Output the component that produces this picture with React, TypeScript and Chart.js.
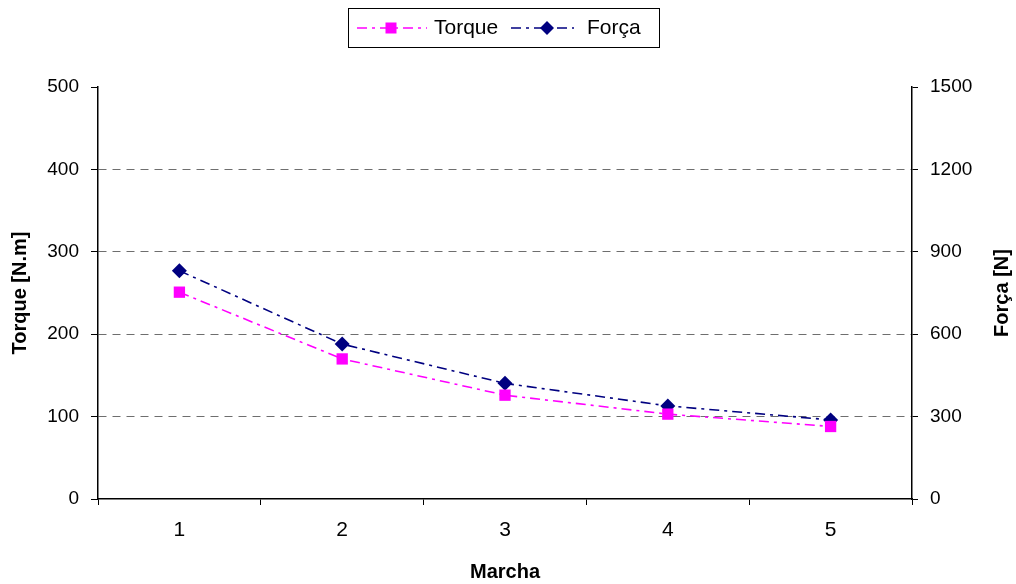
import { useEffect, useRef } from 'react';
import { Chart, registerables } from 'chart.js';

Chart.register(...registerables);

const gears = ['1', '2', '3', '4', '5'];
const torqueValues = [251, 170, 126, 103, 88];
const forceValues = [831, 564, 421, 339, 288];
const seriesNames = ['Torque', 'Força'];
const torqueAxis = { min: 0, max: 500, step: 100, title: 'Torque [N.m]' };
const forceAxis = { min: 0, max: 1500, step: 300, title: 'Força [N]' };
const xTitle = 'Marcha';

const FONT = '"Liberation Sans", Arial, sans-serif';
const PINK = '#FF00FF';
const NAVY = '#000080';
const DASH = [10, 5, 3, 5];

const legendPlugin = {
  id: 'customLegend',
  afterDraw(chart: any) {
    const ctx = chart.ctx as CanvasRenderingContext2D;
    ctx.save();
    ctx.strokeStyle = '#000';
    ctx.lineWidth = 1;
    ctx.setLineDash([]);
    ctx.strokeRect(348.5, 8.5, 311, 39);
    const y = 28;
    const items = [
      { name: seriesNames[0], color: PINK, x0: 357, x1: 427, mx: 391, tx: 434, shape: 'rect' },
      { name: seriesNames[1], color: NAVY, x0: 511, x1: 574, mx: 547, tx: 587, shape: 'diamond' },
    ];
    for (const it of items) {
      ctx.strokeStyle = it.color;
      ctx.lineWidth = 1.6;
      ctx.setLineDash(DASH);
      ctx.beginPath();
      ctx.moveTo(it.x0, y);
      ctx.lineTo(it.x1, y);
      ctx.stroke();
      ctx.setLineDash([]);
      ctx.fillStyle = it.color;
      if (it.shape === 'rect') {
        ctx.fillRect(it.mx - 5.5, y - 5.5, 11, 11);
      } else {
        ctx.beginPath();
        ctx.moveTo(it.mx, y - 7);
        ctx.lineTo(it.mx + 7, y);
        ctx.lineTo(it.mx, y + 7);
        ctx.lineTo(it.mx - 7, y);
        ctx.closePath();
        ctx.fill();
      }
      ctx.fillStyle = '#000';
      ctx.font = `21px ${FONT}`;
      ctx.textBaseline = 'middle';
      ctx.textAlign = 'left';
      ctx.fillText(it.name, it.tx, y);
    }
    ctx.restore();
  },
};

const rightTitlePlugin = {
  id: 'rightTitle',
  afterDraw(chart: any) {
    const ctx = chart.ctx as CanvasRenderingContext2D;
    const area = chart.chartArea;
    ctx.save();
    ctx.translate(1002, (area.top + area.bottom) / 2);
    ctx.rotate(-Math.PI / 2);
    ctx.font = `bold 20px ${FONT}`;
    ctx.fillStyle = '#000';
    ctx.textAlign = 'center';
    ctx.textBaseline = 'middle';
    ctx.fillText(forceAxis.title, 0, 0);
    ctx.restore();
  },
};

export default function App() {
  const ref = useRef<HTMLCanvasElement>(null);

  useEffect(() => {
    if (!ref.current) return;
    const chart = new Chart(ref.current, {
      type: 'line',
      data: {
        labels: gears,
        datasets: [
          {
            label: seriesNames[0],
            data: torqueValues,
            yAxisID: 'y',
            borderColor: PINK,
            backgroundColor: PINK,
            borderWidth: 1.6,
            borderDash: DASH,
            pointStyle: 'rect',
            pointRadius: 8,
            pointBorderWidth: 0,
            pointBackgroundColor: PINK,
            tension: 0,
          },
          {
            label: seriesNames[1],
            data: forceValues,
            yAxisID: 'y1',
            borderColor: NAVY,
            backgroundColor: NAVY,
            borderWidth: 1.6,
            borderDash: DASH,
            pointStyle: 'rectRot',
            pointRadius: 7.5,
            pointBorderWidth: 0,
            pointBackgroundColor: NAVY,
            tension: 0,
          },
        ],
      },
      options: {
        responsive: false,
        animation: false,
        layout: { padding: { top: 87, left: 0, right: 0, bottom: 0 } },
        plugins: {
          legend: { display: false },
          tooltip: { enabled: false },
        },
        scales: {
          x: {
            type: 'category',
            offset: true,
            afterFit: (s: any) => {
              s.height = 85;
            },
            grid: {
              offset: true,
              color: 'rgba(0,0,0,0)',
              tickColor: '#000',
              tickLength: 6,
              drawOnChartArea: false,
            },
            border: { color: '#000', width: 1.5 },
            ticks: { color: '#000', font: { family: FONT, size: 21 }, padding: 13 },
            title: {
              display: true,
              text: xTitle,
              color: '#000',
              font: { family: FONT, size: 20, weight: 'bold' },
              padding: { top: 0, bottom: 0 },
            },
          },
          y: {
            position: 'left',
            min: torqueAxis.min,
            max: torqueAxis.max,
            afterFit: (s: any) => {
              s.width = 98;
            },
            ticks: {
              stepSize: torqueAxis.step,
              color: '#000',
              font: { family: FONT, size: 19 },
              padding: 12,
              callback: (v: any) => String(v),
            },
            grid: {
              color: (c: any) =>
                c.tick && (c.tick.value === torqueAxis.min || c.tick.value === torqueAxis.max)
                  ? 'rgba(0,0,0,0)'
                  : '#6e6e6e',
              tickColor: '#000',
              tickLength: 7,
              tickBorderDash: [],
              lineWidth: 1,
            },
            border: { color: '#000', width: 1.5, dash: [8, 6] },
            title: {
              display: true,
              text: torqueAxis.title,
              color: '#000',
              font: { family: FONT, size: 20, weight: 'bold' },
              padding: { top: 8, bottom: 0 },
            },
          },
          y1: {
            position: 'right',
            min: forceAxis.min,
            max: forceAxis.max,
            afterFit: (s: any) => {
              s.width = 104;
            },
            ticks: {
              stepSize: forceAxis.step,
              color: '#000',
              font: { family: FONT, size: 19 },
              padding: 12,
              callback: (v: any) => String(v),
            },
            grid: {
              drawOnChartArea: false,
              color: 'rgba(0,0,0,0)',
              tickColor: '#000',
              tickLength: 6,
            },
            border: { color: '#000', width: 1.5 },
            title: { display: false },
          },
        },
      },
      plugins: [legendPlugin, rightTitlePlugin],
    } as any);
    return () => chart.destroy();
  }, []);

  return (
    <div style={{ position: 'absolute', left: 0, top: 0, width: 1016, height: 584, background: '#fff' }}>
      <canvas ref={ref} width={1016} height={584} />
    </div>
  );
}
